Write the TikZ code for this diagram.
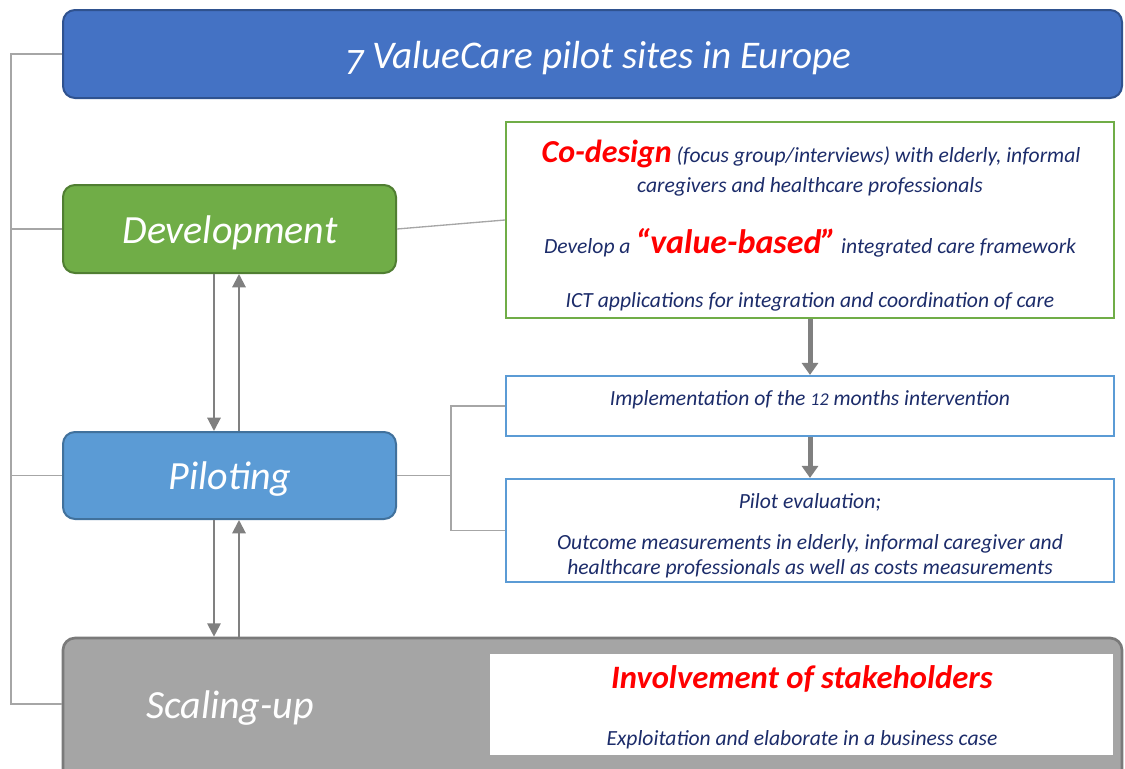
\documentclass[tikz,border=0pt]{standalone}
\usepackage{fontspec}
\setmainfont{Carlito}
\usetikzlibrary{arrows.meta,calc}
\definecolor{topblue}{HTML}{4472C4}
\definecolor{topborder}{HTML}{2F528F}
\definecolor{devgreen}{HTML}{70AD47}
\definecolor{devborder}{HTML}{507E32}
\definecolor{pilblue}{HTML}{5B9BD5}
\definecolor{pilborder}{HTML}{41719C}
\definecolor{scalegray}{HTML}{A5A5A5}
\definecolor{scaleborder}{HTML}{7A7A7A}
\definecolor{navy}{HTML}{1C2C6A}
\definecolor{conn}{HTML}{A6A6A6}
\definecolor{arrgray}{HTML}{808080}
\tikzset{
  phase/.style={draw, rounded corners=9pt, line width=1.5pt, inner sep=0pt},
  infobox/.style={draw, fill=white, line width=1.6pt, inner sep=0pt},
  conline/.style={draw=conn, line width=1pt},
  twoway/.style={draw=arrgray, line width=1.5pt, -{Triangle[length=10pt,width=10pt]}},
  flow/.style={draw=arrgray, line width=3.75pt, -{Triangle[length=9pt,width=12pt]}},
  bigtxt/.style={text=white, font=\fontsize{30}{36}\selectfont\itshape, anchor=base},
  bodytxt/.style={text=navy, font=\fontsize{16.2}{19}\selectfont\itshape, anchor=base},
}
\begin{document}
\begin{tikzpicture}[x=0.75pt,y=-0.75pt]
\useasboundingbox (0,0) rectangle (1125,768);
\clip (0,0) rectangle (1125,768);
% phase boxes
\node[phase, fill=topblue, draw=topborder, minimum width=794.25pt, minimum height=66pt] (top) at (592.5,54) {};
\node[phase, fill=devgreen, draw=devborder, minimum width=249.75pt, minimum height=66pt] (dev) at (229.5,229) {};
\node[phase, fill=pilblue, draw=pilborder, minimum width=249.75pt, minimum height=65.25pt] (pil) at (229.5,475.5) {};
\node[phase, fill=scalegray, draw=scaleborder, line width=2pt, minimum width=794.25pt, minimum height=121.5pt] (scale) at (592.5,719) {};
% info boxes
\node[infobox, draw=devgreen, minimum width=456pt, minimum height=147pt] (green) at (810,220) {};
\node[infobox, draw=pilblue, minimum width=456pt, minimum height=45pt] (impl) at (810,406) {};
\node[infobox, draw=pilblue, minimum width=456pt, minimum height=77.25pt] (eval) at (810,530.5) {};
\node[draw=none, fill=white, inner sep=0pt, minimum width=467.25pt, minimum height=75.75pt] (stake) at (801.5,704.5) {};
% phase texts
\node[bigtxt, font=\fontsize{29.4}{35}\selectfont\itshape] (toptxt) at (598,68) {\raisebox{-5pt}{\fontsize{28}{32}\selectfont 7} ValueCare pilot sites in Europe};
\node[bigtxt] (devtxt) at (230,243) {Development};
\node[bigtxt] (piltxt) at (230,489) {Piloting};
\node[bigtxt] (scaletxt) at (230,718) {Scaling-up};
% green box texts
\node[bodytxt] (g1) at (811,162) {{\color{red}\fontsize{24}{28}\selectfont\bfseries Co-design} (focus group/interviews) with elderly, informal};
\node[bodytxt] (g2) at (810,192) {caregivers and healthcare professionals};
\node[bodytxt] (g3) at (810,253) {Develop a {\color{red}\fontsize{25.5}{30}\selectfont\bfseries “value-based”} integrated care framework};
\node[bodytxt] (g4) at (810,307) {ICT applications for integration and coordination of care};
% piloting texts
\node[bodytxt] (i1) at (810,405) {Implementation of the {\fontsize{13.5}{16}\selectfont 12} months intervention};
\node[bodytxt] (e1) at (810,508) {Pilot evaluation;};
\node[bodytxt] (e2) at (810,549) {Outcome measurements in elderly, informal caregiver and};
\node[bodytxt] (e3) at (810,574) {healthcare professionals as well as costs measurements};
% stakeholder texts
\node[bodytxt, text=red, font=\fontsize{24.5}{29}\selectfont\bfseries\itshape] (s1) at (802,688) {Involvement of stakeholders};
\node[bodytxt] (s2) at (802,745) {Exploitation and elaborate in a business case};
% left bracket
\coordinate (b1) at (11,54);
\coordinate (b4) at (11,704);
\draw[conline] (top.west) -- (b1) -- (b4) -- (b4 -| scale.west);
\draw[conline] (b1 |- dev.west) -- (dev.west);
\draw[conline] (b1 |- pil.west) -- (pil.west);
% development to green box
\draw[conline] (dev.east) -- (green.west);
% piloting bracket
\coordinate (pb) at (451,475.5);
\draw[conline] (pil.east) -- (pb);
\draw[conline] (impl.west) -| (pb) |- (eval.west);
% two-way arrows
\draw[twoway] ($(dev.south)+(-15.5,0)$) -- ($(pil.north)+(-15.5,0)$);
\draw[twoway] ($(pil.north)+(9.5,0)$) -- ($(dev.south)+(9.5,0)$);
\draw[twoway] ($(pil.south)+(-15.5,0)$) -- ($(scale.north)+(-378.5,0)$);
\draw[twoway] ($(scale.north)+(-353.5,0)$) -- ($(pil.south)+(9.5,0)$);
% flow arrows
\draw[flow] (green.south) -- (impl.north);
\draw[flow] (impl.south) -- (eval.north);
\end{tikzpicture}
\end{document}
